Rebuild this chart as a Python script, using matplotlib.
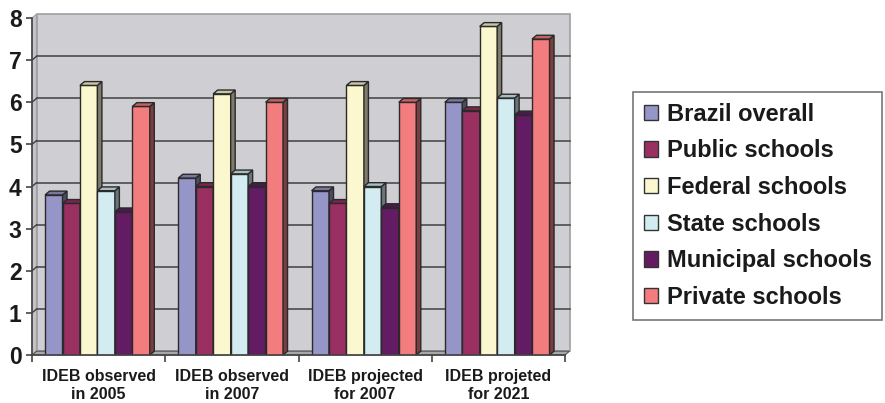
import matplotlib.pyplot as plt
import numpy as np
from matplotlib.patches import Polygon, Patch

plt.rcParams['font.family'] = ['Liberation Sans', 'DejaVu Sans']
plt.rcParams['font.weight'] = 'bold'

categories = ["IDEB observed\nin 2005", "IDEB observed\nin 2007",
              "IDEB projected\nfor 2007", "IDEB projeted\nfor 2021"]
series = ["Brazil overall", "Public schools", "Federal schools",
          "State schools", "Municipal schools", "Private schools"]
brazil = [3.8, 4.2, 3.9, 6.0]
public = [3.6, 4.0, 3.6, 5.8]
federal = [6.4, 6.2, 6.4, 7.8]
state = [3.9, 4.3, 4.0, 6.1]
municipal = [3.4, 4.0, 3.5, 5.7]
private = [5.9, 6.0, 6.0, 7.5]
values = [brazil, public, federal, state, municipal, private]
colors = ["#9595c8", "#9a3062", "#fbf8d0", "#d2ecf2", "#631c63", "#f27c7e"]


def shade(c, f):
    rgb = np.array(plt.matplotlib.colors.to_rgb(c))
    return tuple(rgb * f)


fig = plt.figure(figsize=(8.85, 4.03), dpi=100)
ax = fig.add_axes([32 / 885, (403 - 355) / 403, 533 / 885, 337 / 403])
ax.set_xlim(0, 4)
ax.set_ylim(0, 8)

# depth offsets for the pseudo-3D look (data units)
DX, DY = 4.5 / 133.25, 3.8 / 42.1
ymax = 8

# back wall, side wall and floor
ax.add_patch(Polygon([(DX, DY), (4 + DX, DY), (4 + DX, ymax + DY), (DX, ymax + DY)],
                     closed=True, fc="#cfcfd3", ec="#a0a0a4", lw=1.2, zorder=0, clip_on=False))
ax.add_patch(Polygon([(0, 0), (DX, DY), (DX, ymax + DY), (0, ymax)],
                     closed=True, fc="#c4c4c8", ec="#a0a0a4", lw=0.8, zorder=0, clip_on=False))
ax.add_patch(Polygon([(0, 0), (4, 0), (4 + DX, DY), (DX, DY)],
                     closed=True, fc="#a8a8a8", ec="#555555", lw=0.8, zorder=0.5, clip_on=False))
for k in range(1, ymax):
    ax.plot([DX, 4 + DX], [k + DY, k + DY], color="#404040", lw=1.1, zorder=0.6, clip_on=False)
    ax.plot([0, DX], [k, k + DY], color="#404040", lw=1.0, zorder=0.6, clip_on=False)

# bars with front, side and top faces
w = 0.131
start = 0.098
z = 1
for i in range(len(categories)):
    for j, (vals, c) in enumerate(zip(values, colors)):
        x = i + start + j * w
        v = vals[i]
        ax.bar(x, v, width=w, align="edge", color=c, edgecolor="#2a2a2a", lw=1.0, zorder=z)
        ax.add_patch(Polygon([(x + w, 0), (x + w + DX, DY), (x + w + DX, v + DY), (x + w, v)],
                             closed=True, fc=shade(c, 0.5), ec="#2a2a2a", lw=1.0, zorder=z,
                             clip_on=False))
        ax.add_patch(Polygon([(x, v), (x + DX, v + DY), (x + w + DX, v + DY), (x + w, v)],
                             closed=True, fc=shade(c, 0.8), ec="#2a2a2a", lw=1.0, zorder=z,
                             clip_on=False))
        z += 1

for s in ["top", "right"]:
    ax.spines[s].set_visible(False)
for s in ["left", "bottom"]:
    ax.spines[s].set_color("#444444")
    ax.spines[s].set_linewidth(1.2)
    ax.spines[s].set_zorder(100)

ax.set_yticks(range(0, 9))
ax.set_yticklabels([str(k) for k in range(0, 9)], fontsize=16.5, fontweight="bold",
                   color="#1a1a1a")
ax.tick_params(axis="y", length=4, width=1.2, color="#444444", pad=3.5)

ax.set_xticks(range(0, 5))
ax.set_xticklabels([])
ax.tick_params(axis="x", which="major", length=5, width=1.2, color="#444444")
ax.set_xticks(np.arange(len(categories)) + 0.5, minor=True)
ax.set_xticklabels(categories, minor=True, fontsize=11.5, fontweight="bold",
                   linespacing=1.22, color="#1a1a1a")
ax.tick_params(axis="x", which="minor", length=0, pad=10)

handles = [Patch(fc=c, ec="#333333", lw=1.0) for c in colors]
leg = fig.legend(handles, series, loc="upper left",
                 bbox_to_anchor=(633 / 885, (403 - 92) / 403), borderaxespad=0,
                 prop={"size": 17, "weight": "bold"}, handlelength=0.62, handleheight=0.62,
                 handletextpad=0.35, labelspacing=0.58, borderpad=0.45, fancybox=False)
leg.get_frame().set_edgecolor("#555555")
leg.get_frame().set_linewidth(1.2)
for t in leg.get_texts():
    t.set_color("#1a1a1a")

fig.savefig("out.png", dpi=100)
